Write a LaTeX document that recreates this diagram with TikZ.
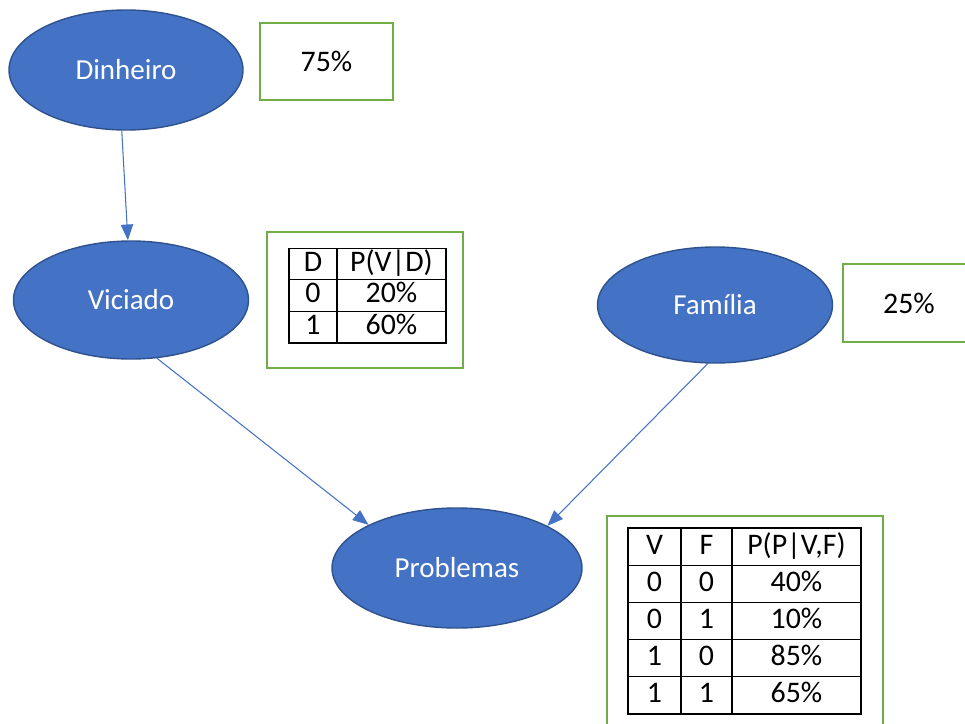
\documentclass[tikz,border=0pt]{standalone}
\usepackage{fontspec}
\setmainfont{Carlito}
\usetikzlibrary{arrows.meta,shapes.geometric,matrix}
\definecolor{nodeblue}{HTML}{4472C4}
\definecolor{nodeedge}{HTML}{2F528F}
\definecolor{boxgreen}{HTML}{70AD47}

\begin{document}
\begin{tikzpicture}[x=0.2mm,y=-0.2mm,
var/.style={ellipse,draw=nodeedge,line width=0.8pt,fill=nodeblue,text=white,font=\fontsize{16.5}{20}\selectfont,inner sep=0pt},
probbox/.style={draw=boxgreen,line width=1.6pt,fill=white,font=\fontsize{17}{20}\selectfont,inner sep=0pt},
cpt/.style={matrix of nodes,row sep=-0.6pt,column sep=-0.6pt,font=\fontsize{17}{20}\selectfont,
  nodes={draw,line width=0.6pt,anchor=center,inner sep=0pt,text height=11.5pt,text depth=3pt}},
arrow/.style={-{Triangle[length=9pt,width=7pt]},draw=nodeblue,line width=0.6pt}]

\useasboundingbox (0,0) rectangle (965,724);

\node[var,minimum width=46.8mm,minimum height=24mm](dinheiro) at (126,70) {Dinheiro};
\node[var,minimum width=47mm,minimum height=23.6mm](viciado) at (131,300) {Viciado};
\node[var,minimum width=47mm,minimum height=23.2mm](familia) at (715,305) {Família};
\node[var,minimum width=50mm,minimum height=24mm](problemas) at (457,568) {Problemas};

\node[probbox,minimum width=26.6mm,minimum height=15.4mm](pdinheiro) at (326.5,61.5) {75\%};
\node[probbox,minimum width=26.4mm,minimum height=15.6mm](pfamilia) at (909,303) {25\%};

\node[probbox,minimum width=39.2mm,minimum height=27.2mm](boxviciado) at (365,300) {};
\matrix[cpt,
  column 1/.style={nodes={minimum width=9.6mm,minimum height=6.33mm}},
  column 2/.style={nodes={minimum width=21.8mm,minimum height=6.33mm}}]
  (pviciado) at (367.5,295.5) {
  D & P(V|D) \\
  0 & 20\% \\
  1 & 60\% \\
};

\node[probbox,minimum width=55.2mm,minimum height=42.4mm](boxproblemas) at (745,622) {};
\matrix[cpt,
  column 1/.style={nodes={minimum width=10.6mm,minimum height=7.44mm}},
  column 2/.style={nodes={minimum width=10.2mm,minimum height=7.44mm}},
  column 3/.style={nodes={minimum width=25.8mm,minimum height=7.44mm}}]
  (pproblemas) at (744.5,621) {
  V & F & P(P|V,F) \\
  0 & 0 & 40\% \\
  0 & 1 & 10\% \\
  1 & 0 & 85\% \\
  1 & 1 & 65\% \\
};

\draw[arrow] (dinheiro.-94) -- (viciado.93);
\draw[arrow] (viciado.-66) -- (problemas.154);
\draw[arrow] (familia.-97) -- (problemas.25);

\end{tikzpicture}
\end{document}
